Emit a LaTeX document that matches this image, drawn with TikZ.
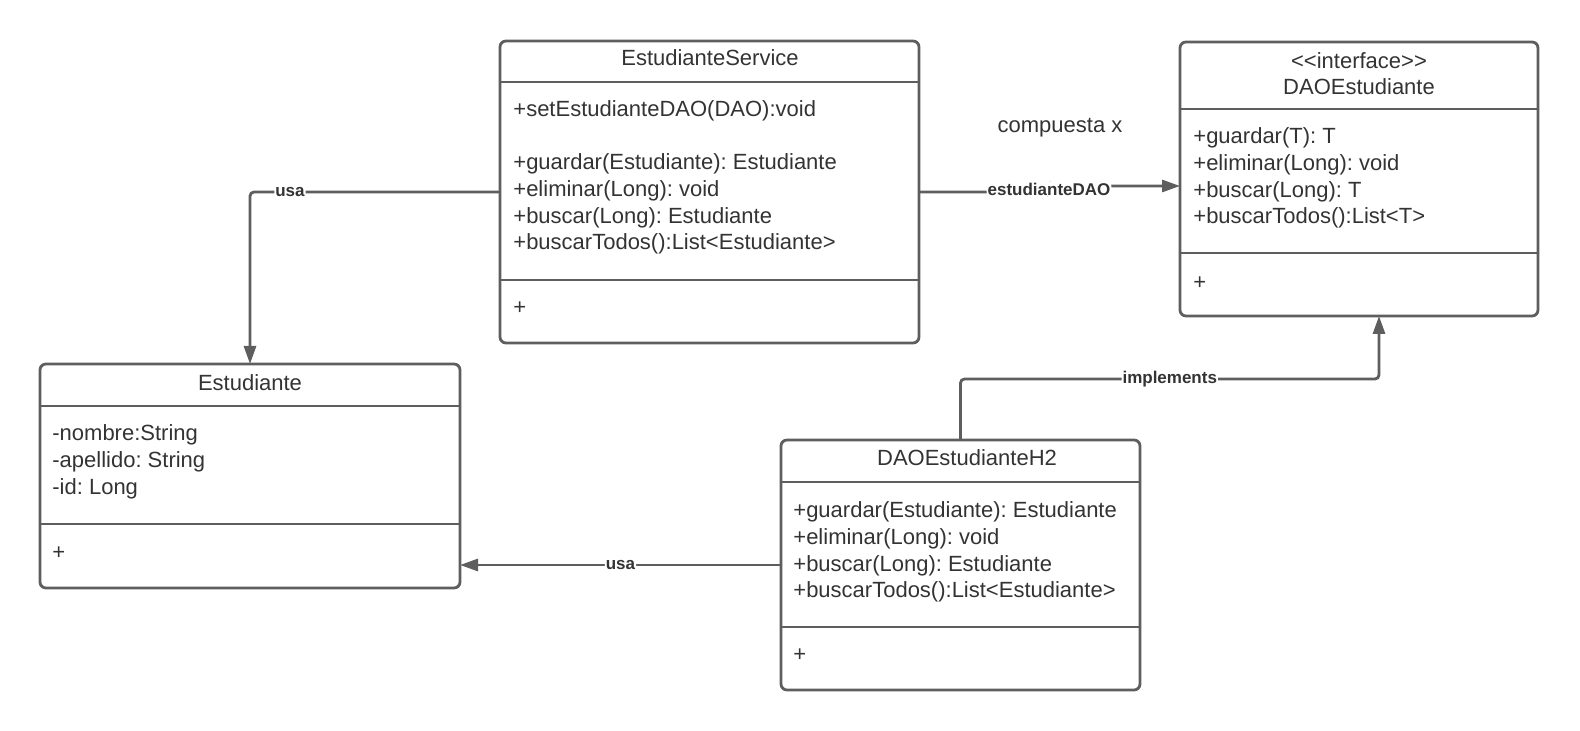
\documentclass[tikz,border=0pt]{standalone}
\usepackage{fontspec}
\setmainfont{Liberation Sans}
\usetikzlibrary{positioning,arrows.meta}
\definecolor{linegray}{HTML}{5E5E5E}
\definecolor{textgray}{HTML}{333333}
\frenchspacing

\begin{document}
\begin{tikzpicture}[
    x=0.5pt, y=-0.5pt,
    >={Triangle[length=9pt,width=6pt]},
    every node/.style={text=textgray, font=\fontsize{11}{13.35}\selectfont},
    umlclass/.style={draw=linegray, line width=1.4pt, rounded corners=3pt, inner sep=0pt, outer sep=0pt},
    divider/.style={draw=linegray, line width=1.4pt},
    members/.style={anchor=west, align=left, inner sep=0pt},
    conn/.style={draw=linegray, line width=1.4pt, rounded corners=2pt},
    connlabel/.style={fill=white, inner sep=0.5pt, font=\bfseries\fontsize{8.5}{10}\selectfont}
]
\useasboundingbox (0,0) rectangle (1580,731);

% classes
\node[umlclass, minimum width=209.5pt, minimum height=151pt] (svc) at (709.5,192) {};
\node[umlclass, minimum width=179pt, minimum height=137pt] (dao) at (1359,179) {};
\node[umlclass, minimum width=210pt, minimum height=112pt] (est) at (250,476) {};
\node[umlclass, minimum width=179.5pt, minimum height=125pt] (daoh2) at (960.5,565) {};

\draw[divider] (svc.west |- 0,82) -- (svc.east |- 0,82);
\draw[divider] (svc.west |- 0,280) -- (svc.east |- 0,280);
\draw[divider] (dao.west |- 0,109) -- (dao.east |- 0,109);
\draw[divider] (dao.west |- 0,253) -- (dao.east |- 0,253);
\draw[divider] (est.west |- 0,406) -- (est.east |- 0,406);
\draw[divider] (est.west |- 0,524) -- (est.east |- 0,524);
\draw[divider] (daoh2.west |- 0,482) -- (daoh2.east |- 0,482);
\draw[divider] (daoh2.west |- 0,627) -- (daoh2.east |- 0,627);

% EstudianteService
\node (svc-name) at (710,58) {EstudianteService};
\node[members] (svc-set) at (513,111) {+setEstudianteDAO(DAO):void};
\node[members] (svc-ops) at (513,204) {+guardar(Estudiante): Estudiante\\+eliminar(Long): void\\+buscar(Long): Estudiante\\+buscarTodos():List<Estudiante>};
\node[members] (svc-plus) at (513,308) {+};

% DAOEstudiante
\node[align=center, inner sep=0pt] (dao-name) at (1359,73.5) {<{}<interface>{}>\\DAOEstudiante};
\node[members] (dao-ops) at (1193,178) {+guardar(T): T\\+eliminar(Long): void\\+buscar(Long): T\\+buscarTodos():List<T>};
\node[members] (dao-plus) at (1193,283) {+};

% Estudiante
\node (est-name) at (250,383) {Estudiante};
\node[members] (est-attrs) at (52,462) {-nombre:String\\-apellido: String\\-id: Long};
\node[members] (est-plus) at (52,553) {+};

% DAOEstudianteH2
\node (daoh2-name) at (967,458) {DAOEstudianteH2};
\node[members] (daoh2-ops) at (793,552) {+guardar(Estudiante): Estudiante\\+eliminar(Long): void\\+buscar(Long): Estudiante\\+buscarTodos():List<Estudiante>};
\node[members] (daoh2-plus) at (793,655) {+};

\node (comp-note) at (1060,128) {compuesta x};

% connectors
\coordinate (jog) at (1049,189);
\coordinate (implbend) at (960.5,379);

\draw[conn,->] (svc.west) -| node[connlabel, pos=0.42] (usa-svc) {usa} (est.north);
\draw[conn,->] (daoh2.west) -- node[connlabel] (usa-h2) {usa} (daoh2.west -| est.east);
\draw[conn,->] (daoh2.north) -- (implbend) -| node[connlabel, pos=0.25] (impl) {implements} ([xshift=10pt]dao.south);
\draw[conn,->] (svc.east) -| (jog) node[connlabel] (dao-field) {estudianteDAO} |- ([yshift=-3.5pt]dao.west);
\end{tikzpicture}
\end{document}
